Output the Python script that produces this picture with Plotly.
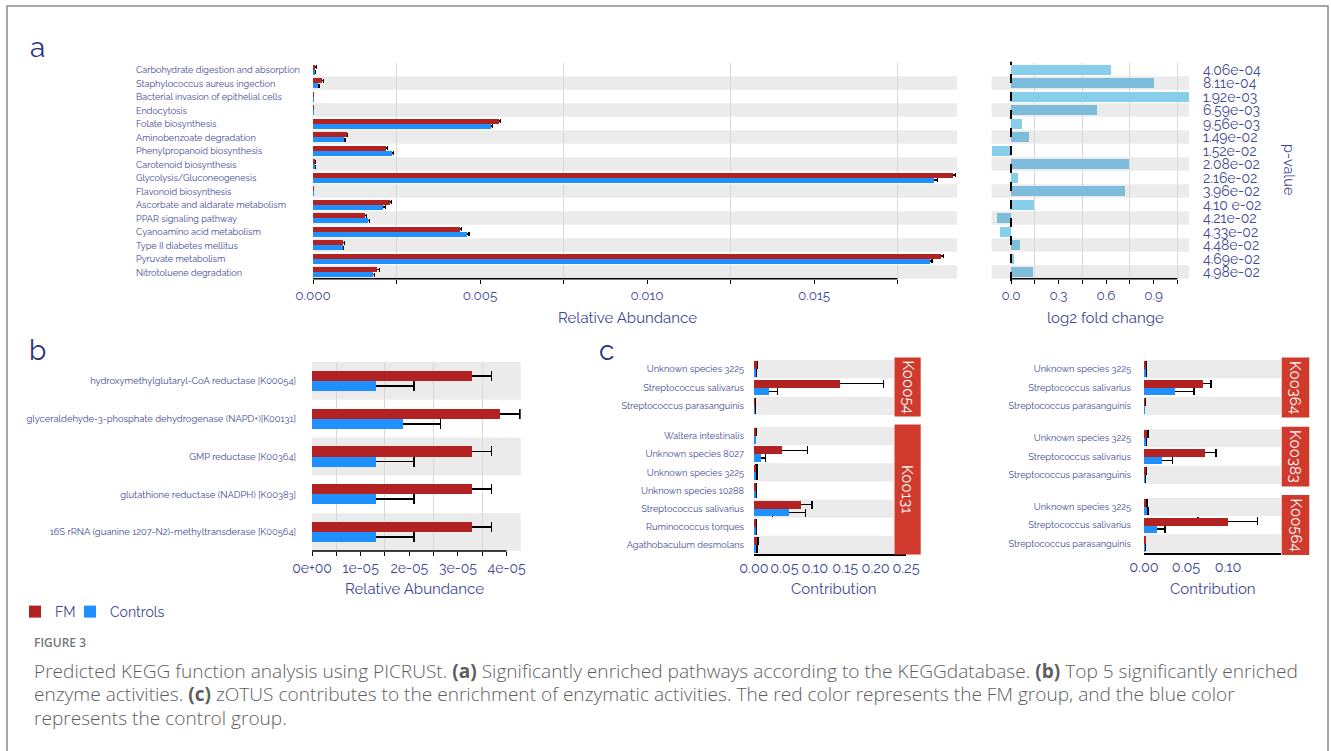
import plotly.graph_objects as go

W, H = 1331, 751


def fx(p):
    return p / W


def fy(p):
    return 1 - p / H


# ---------------- data ----------------
a_pathways = [
    "Carbohydrate digestion and absorption", "Staphylococcus aureus ingection",
    "Bacterial invasion of epithelial cells", "Endocytosis", "Folate biosynthesis",
    "Aminobenzoate degradation", "Phenylpropanoid biosynthesis", "Carotenoid biosynthesis",
    "Glycolysis/Gluconeogenesis", "Flavonoid biosynthesis", "Ascorbate and aldarate metabolism",
    "PPAR signaling pathway", "Cyanoamino acid metabolism", "Type II diabetes mellitus",
    "Pyruvate metabolism", "Nitrotoluene degradation",
]
a_fm = [0.00007, 0.00026, 0.00001, 0.00001, 0.00556, 0.00101, 0.00219, 0.00005,
        0.01915, 0.00001, 0.00230, 0.00156, 0.00440, 0.00091, 0.01880, 0.00193]
a_fm_err = [0.00003, 0.00005, 0.00001, 0.00001, 0.00006, 0.00003, 0.00004, 0.00002,
            0.00008, 0.00001, 0.00005, 0.00003, 0.00005, 0.00003, 0.00007, 0.00005]
a_ctrl = [0.00005, 0.00014, 0.00001, 0.00001, 0.00532, 0.00093, 0.00236, 0.00005,
          0.01860, 0.00001, 0.00211, 0.00164, 0.00462, 0.00089, 0.01847, 0.00179]
a_ctrl_err = [0.00003, 0.00004, 0.00001, 0.00001, 0.00006, 0.00003, 0.00005, 0.00002,
              0.00009, 0.00001, 0.00005, 0.00004, 0.00005, 0.00003, 0.00006, 0.00004]
a_log2fc = [0.63, 0.90, 1.13, 0.54, 0.07, 0.11, -0.12, 0.745,
            0.042, 0.72, 0.145, -0.09, -0.07, 0.053, 0.019, 0.135]
a_pvalues = ["4.06e-04", "8.11e-04", "1.92e-03", "6.59e-03", "9.56e-03", "1.49e-02",
             "1.52e-02", "2.08e-02", "2.16e-02", "3.96e-02", "4.10 e-02", "4.21e-02",
             "4.33e-02", "4.48e-02", "4.69e-02", "4.98e-02"]
a_abund_ticks = [0.0, 0.005, 0.010, 0.015]
a_abund_ticktext = ["0.000", "0.005", "0.010", "0.015"]
a_abund_minor = [0.0025, 0.0075, 0.0125, 0.0175]
a_fc_ticks = [0.0, 0.3, 0.6, 0.9]
a_fc_ticktext = ["0.0", "0.3", "0.6", "0.9"]
a_fc_minor = [0.15, 0.45, 0.75, 1.05]

b_enzymes = [
    "hydroxymethylglutaryl-CoA reductase [K00054]",
    "glyceraldehyde-3-phosphate dehydrogenase (NAPD+)[K00131]",
    "GMP reductase [K00364]",
    "glutathione reductase (NADPH) [K00383]",
    "16S rRNA (guanine 1207-N2)-methyltransderase [K00564]",
]
b_fm = [3.28e-05, 3.87e-05, 3.28e-05, 3.28e-05, 3.28e-05]
b_fm_err = [0.41e-05, 0.41e-05, 0.41e-05, 0.41e-05, 0.41e-05]
b_ctrl = [1.31e-05, 1.88e-05, 1.31e-05, 1.31e-05, 1.31e-05]
b_ctrl_err = [0.78e-05, 0.76e-05, 0.78e-05, 0.78e-05, 0.78e-05]
b_ticks = [0, 1e-05, 2e-05, 3e-05, 4e-05]
b_ticktext = ["0e+00", "1e-05", "2e-05", "3e-05", "4e-05"]
b_minor = [0.5e-05, 1.5e-05, 2.5e-05, 3.5e-05]

c_k00054_species = ["Unknown species 3225", "Streptococcus salivarus", "Streptococcus parasanguinis"]
c_k00054_fm = [0.0045, 0.1414, 0.0010]
c_k00054_fm_err = [0.0015, 0.0713, 0.0005]
c_k00054_ctrl = [0.0020, 0.0247, 0.0010]
c_k00054_ctrl_err = [0.0010, 0.0143, 0.0005]

c_k00131_species = ["Waltera intestinalis", "Unknown species 8027", "Unknown species 3225",
                    "Unknown species 10288", "Streptococcus salivarius", "Ruminococcus torques",
                    "Agathobaculum desmolans"]
c_k00131_fm = [0.0024, 0.0461, 0.0036, 0.0030, 0.0768, 0.0024, 0.0052]
c_k00131_fm_err = [0.0010, 0.0416, 0.0010, 0.0008, 0.0186, 0.0008, 0.0015]
c_k00131_ctrl = [0.0020, 0.0110, 0.0040, 0.0030, 0.0576, 0.0024, 0.0036]
c_k00131_ctrl_err = [0.0008, 0.0080, 0.0010, 0.0008, 0.0274, 0.0008, 0.0010]

c_right_species = ["Unknown species 3225", "Streptococcus salivarius", "Streptococcus parasanguinis"]
c_k00364_fm = [0.0016, 0.0700, 0.0008]
c_k00364_fm_err = [0.0008, 0.0099, 0.0004]
c_k00364_ctrl = [0.0016, 0.0372, 0.0004]
c_k00364_ctrl_err = [0.0008, 0.0225, 0.0002]
c_k00383_fm = [0.0035, 0.0730, 0.0016]
c_k00383_fm_err = [0.0010, 0.0127, 0.0005]
c_k00383_ctrl = [0.0016, 0.0220, 0.0008]
c_k00383_ctrl_err = [0.0006, 0.0122, 0.0003]
c_k00564_fm = [0.0024, 0.0995, 0.0012]
c_k00564_fm_err = [0.0010, 0.0355, 0.0004]
c_k00564_ctrl = [0.0035, 0.0150, 0.0008]
c_k00564_ctrl_err = [0.0010, 0.0099, 0.0003]

c_left_ticks = [0, 0.05, 0.10, 0.15, 0.20, 0.25]
c_left_ticktext = ["0.00", "0.05", "0.10", "0.15", "0.20", "0.25"]
c_right_ticks = [0, 0.05, 0.10]
c_right_ticktext = ["0.00", "0.05", "0.10"]

legend_names = ["FM", "Controls"]

# ---------------- style ----------------
TEXT = "#3F4A94"
DARK = "#2B3384"
RED = "#B22222"
BLUE = "#1E90FF"
FC_LIGHT = "#87CEEB"
FC_DARK = "#7DBCDB"
STRIPE = "#EBEBEB"
GRID = "#D9D9D9"
STRIP = "#D03A2C"
FONT = "Raleway, Lato, sans-serif"
CAPFONT = "Open Sans, sans-serif"

fig = go.Figure()
shapes = []
annotations = []


def sfx(k):
    return "" if k == 1 else str(k)


# panel geometry in pixels: (x0, x1), (ytop, ybottom), n rows, stripe parity, stripe end (data)
panels = {
    1: dict(x=(313, 957), y=(62.75, 278.75), n=16, par=1, send=None),
    2: dict(x=(991.7, 1189), y=(62.75, 278.75), n=16, par=1, send=None),
    3: dict(x=(312, 520.7), y=(362, 551), n=5, par=0, send=None),
    4: dict(x=(754, 906), y=(360, 415), n=3, par=0, send=0.2303),
    5: dict(x=(754, 906), y=(427, 554), n=7, par=0, send=0.2303),
    6: dict(x=(1144, 1281), y=(360, 415), n=3, par=0, send=None),
    7: dict(x=(1144, 1281), y=(429, 484), n=3, par=0, send=None),
    8: dict(x=(1144, 1281), y=(497.7, 552.7), n=3, par=0, send=None),
}

for k, p in panels.items():
    for i in range(p["n"]):
        if i % 2 == p["par"]:
            if p["send"] is None:
                xr, x0, x1 = f"x{sfx(k)} domain", 0, 1
            else:
                xr, x0, x1 = f"x{sfx(k)}", 0, p["send"]
            shapes.append(dict(type="rect", xref=xr, yref=f"y{sfx(k)}",
                               x0=x0, x1=x1, y0=i - 0.5, y1=i + 0.5, fillcolor=STRIPE,
                               line=dict(width=0), layer="below"))


def add_pair(k, fm, fm_err, ctrl, ctrl_err, half, cap, thick, legend=False):
    ys = list(range(len(fm)))
    xa, ya = f"x{sfx(k)}", f"y{sfx(k)}"
    series = [(fm, fm_err, RED, -half, legend_names[0], "legend"),
              (ctrl, ctrl_err, BLUE, 0.0, legend_names[1], "legend2")]
    for vals, errs, col, off, name, lg in series:
        fig.add_trace(go.Bar(x=vals, y=ys, orientation="h", offset=off, width=half,
                             marker=dict(color="rgba(0,0,0,0)"),
                             error_x=dict(type="data", array=errs, color="black",
                                          thickness=thick, width=cap),
                             xaxis=xa, yaxis=ya, showlegend=False, hoverinfo="skip"))
    for vals, errs, col, off, name, lg in series:
        fig.add_trace(go.Bar(x=vals, y=ys, orientation="h", offset=off, width=half,
                             marker=dict(color=col, line=dict(width=0)), name=name,
                             xaxis=xa, yaxis=ya, showlegend=legend, legend=lg))


add_pair(1, a_fm, a_fm_err, a_ctrl, a_ctrl_err, 0.37, 2, 1.2)
fig.add_trace(go.Bar(x=a_log2fc, y=list(range(len(a_log2fc))), orientation="h", width=0.75,
                     marker=dict(color=[FC_LIGHT if i % 2 == 0 else FC_DARK
                                        for i in range(len(a_log2fc))], line=dict(width=0)),
                     xaxis="x2", yaxis="y2", showlegend=False))
add_pair(3, b_fm, b_fm_err, b_ctrl, b_ctrl_err, 0.265, 5, 1.8, legend=True)
add_pair(4, c_k00054_fm, c_k00054_fm_err, c_k00054_ctrl, c_k00054_ctrl_err, 0.43, 4, 1.5)
add_pair(5, c_k00131_fm, c_k00131_fm_err, c_k00131_ctrl, c_k00131_ctrl_err, 0.43, 4, 1.5)
add_pair(6, c_k00364_fm, c_k00364_fm_err, c_k00364_ctrl, c_k00364_ctrl_err, 0.43, 4, 1.5)
add_pair(7, c_k00383_fm, c_k00383_fm_err, c_k00383_ctrl, c_k00383_ctrl_err, 0.43, 4, 1.5)
add_pair(8, c_k00564_fm, c_k00564_fm_err, c_k00564_ctrl, c_k00564_ctrl_err, 0.43, 4, 1.5)

legend_common = dict(orientation="h", xanchor="left", yanchor="middle", y=fy(612),
                     font=dict(size=14, color=TEXT), bgcolor="rgba(0,0,0,0)", borderwidth=0)
layout = dict(
    template="none",
    width=W, height=H, margin=dict(l=0, r=0, t=0, b=0, pad=0), autosize=False,
    paper_bgcolor="white", plot_bgcolor="rgba(0,0,0,0)", barmode="overlay",
    font=dict(family=FONT, color=TEXT), bargap=0,
    legend=dict(x=fx(15), **legend_common),
    legend2=dict(x=fx(70), **legend_common),
)

y_labels = {3: b_enzymes, 4: c_k00054_species, 5: c_k00131_species,
            6: c_right_species, 7: c_right_species, 8: c_right_species}
standoff = {3: 15, 4: 9, 5: 9, 6: 12, 7: 12, 8: 12}
lsize = {3: 9.4, 4: 9.2, 5: 9.2, 6: 9.2, 7: 9.2, 8: 9.2}

for k, p in panels.items():
    n = p["n"]
    yd = dict(domain=[fy(p["y"][1]), fy(p["y"][0])], anchor=f"x{sfx(k)}",
              range=[n - 0.5, -0.5], showgrid=False, zeroline=False, showline=False,
              ticks="", fixedrange=True, automargin=False)
    if k in y_labels:
        yd.update(tickmode="array", tickvals=list(range(n)), ticktext=y_labels[k],
                  showticklabels=True, ticklabelstandoff=standoff[k],
                  tickfont=dict(size=lsize[k], color=TEXT, family=FONT))
    else:
        yd.update(showticklabels=False)
    layout[f"yaxis{sfx(k)}"] = yd

tick_common = dict(ticks="outside", ticklen=4, tickwidth=1, tickcolor="black")
minor_common = dict(showgrid=True, gridcolor=GRID, gridwidth=1, ticks="outside",
                    ticklen=4, tickwidth=1, tickcolor="black")

layout["xaxis"] = dict(domain=[fx(313), fx(957)], anchor="y", range=[0, 0.01928],
                       tickmode="array", tickvals=a_abund_ticks, ticktext=a_abund_ticktext,
                       showgrid=False, zeroline=False, showline=False, automargin=False,
                       tickangle=0, tickfont=dict(size=13.5, color=TEXT),
                       minor=dict(tickmode="array", tickvals=a_abund_minor, **minor_common),
                       **tick_common)
layout["xaxis2"] = dict(domain=[fx(991.7), fx(1189)], anchor="y2", range=[-0.122, 1.124],
                        tickmode="array", tickvals=a_fc_ticks, ticktext=a_fc_ticktext,
                        showgrid=False, zeroline=False, showline=False, automargin=False,
                        tickangle=0, tickfont=dict(size=13.5, color=TEXT),
                        minor=dict(tickmode="array", tickvals=a_fc_minor, **minor_common),
                        **tick_common)
layout["xaxis3"] = dict(domain=[fx(312), fx(520.7)], anchor="y3", range=[0, 4.29e-05],
                        tickmode="array", tickvals=b_ticks, ticktext=b_ticktext,
                        showgrid=False, zeroline=False, showline=False, automargin=False,
                        tickangle=0, tickfont=dict(size=14, color=TEXT),
                        minor=dict(tickmode="array", tickvals=b_minor, **minor_common),
                        **tick_common)
for k in (4, 5):
    layout[f"xaxis{k}"] = dict(domain=[fx(754), fx(906)], anchor=f"y{k}", range=[0, 0.25],
                               showgrid=False, zeroline=False, fixedrange=True, automargin=False,
                               showline=(k == 5), linecolor="black", linewidth=1.5,
                               showticklabels=(k == 5), tickmode="array", tickangle=0,
                               tickvals=c_left_ticks, ticktext=c_left_ticktext,
                               tickfont=dict(size=14.5, color=TEXT), ticks="")
for k in (6, 7, 8):
    layout[f"xaxis{k}"] = dict(domain=[fx(1144), fx(1281)], anchor=f"y{k}",
                               range=[0, 0.163], showgrid=False, zeroline=False,
                               automargin=False, showline=(k == 8), linecolor="black",
                               linewidth=1.5, showticklabels=(k == 8), tickmode="array",
                               tickangle=0, tickvals=c_right_ticks, ticktext=c_right_ticktext,
                               tickfont=dict(size=14.5, color=TEXT), ticks="")

# axis lines (stop at last tick, like the reference)
for xa, ya, x1 in (("x", "y", a_abund_minor[-1]), ("x2", "y2", a_fc_minor[-1]),
                   ("x3", "y3", b_ticks[-1])):
    shapes.append(dict(type="line", xref=xa, yref=f"{ya} domain", x0=0, x1=x1, y0=0, y1=0,
                       line=dict(color="black", width=1.5), layer="above"))
# zero line (dashed) of fold-change panel
shapes.append(dict(type="line", xref="x2", yref="y2 domain", x0=0, x1=0, y0=-0.01, y1=1.005,
                   line=dict(color="black", width=2, dash="dash"), layer="above"))

# pathway labels (left-aligned)
for i, name in enumerate(a_pathways):
    annotations.append(dict(text=name, xref="paper", yref="y", x=fx(134), y=i,
                            xanchor="left", yanchor="middle", showarrow=False,
                            font=dict(size=9.1, color=TEXT, family=FONT)))
# p-values
for i, pv in enumerate(a_pvalues):
    annotations.append(dict(text=pv, xref="paper", yref="y2", x=fx(1201), y=i,
                            xanchor="left", yanchor="middle", showarrow=False,
                            font=dict(size=14, color=TEXT, family=FONT)))
annotations.append(dict(text="p-value", xref="paper", yref="paper", x=fx(1290), y=fy(170),
                        textangle=90, showarrow=False, xanchor="center", yanchor="middle",
                        font=dict(size=14.5, color=TEXT, family=FONT)))

# facet strips
strips = [("K00054", 894.5, 920.7, 357.5, 416.5), ("K00131", 894.5, 920.7, 424.5, 554.5),
          ("K00364", 1281.7, 1309.3, 357.5, 417.5), ("K00383", 1281.7, 1309.3, 426.7, 486.5),
          ("K00564", 1281.7, 1309.3, 495, 555)]
for lab, x0, x1, y0, y1 in strips:
    shapes.append(dict(type="rect", xref="paper", yref="paper", x0=fx(x0), x1=fx(x1),
                       y0=fy(y1), y1=fy(y0), fillcolor=STRIP, line=dict(width=0)))
    annotations.append(dict(text=lab, xref="paper", yref="paper", x=fx((x0 + x1) / 2),
                            y=fy((y0 + y1) / 2), textangle=90, showarrow=False,
                            xanchor="center", yanchor="middle",
                            font=dict(size=15, color="white", family=FONT)))

# axis titles
for txt, x, y in (("Relative Abundance", 627, 318), ("log2 fold change", 1105, 318),
                  ("Relative Abundance", 415, 589), ("Contribution", 834, 589),
                  ("Contribution", 1212.7, 589)):
    annotations.append(dict(text=txt, xref="paper", yref="paper", x=fx(x), y=fy(y),
                            showarrow=False, xanchor="center", yanchor="middle",
                            font=dict(size=15, color=TEXT, family=FONT)))

# panel letters
for txt, x, y in (("a", 37, 48), ("b", 37, 350), ("c", 606, 351)):
    annotations.append(dict(text=txt, xref="paper", yref="paper", x=fx(x), y=fy(y),
                            showarrow=False, xanchor="center", yanchor="middle",
                            font=dict(size=28, color=DARK, family=FONT)))

# caption
annotations.append(dict(text="FIGURE 3", xref="paper", yref="paper", x=fx(32), y=fy(642),
                        showarrow=False, xanchor="left", yanchor="middle",
                        font=dict(size=12, color="#777777", family="Open Sans", weight=600)))
cap_lines = [
    "Predicted KEGG function analysis using PICRUSt. <b>(a)</b> Significantly enriched pathways "
    "according to the KEGGdatabase. <b>(b)</b> Top 5 significantly enriched",
    "enzyme activities. <b>(c)</b> zOTUS contributes to the enrichment of enzymatic activities. "
    "The red color represents the FM group, and the blue color",
    "represents the control group.",
]
for j, line in enumerate(cap_lines):
    annotations.append(dict(text=line, xref="paper", yref="paper", x=fx(32),
                            y=fy(670.5 + 23.5 * j), showarrow=False, xanchor="left",
                            yanchor="middle",
                            font=dict(size=19.1, color="#5E5E5E", family=CAPFONT, weight=300)))

# outer frame
shapes.append(dict(type="rect", xref="paper", yref="paper", x0=fx(7), x1=fx(1328),
                   y0=fy(770), y1=fy(6), line=dict(color="#8A8A8A", width=1.5),
                   fillcolor="rgba(0,0,0,0)"))

layout["shapes"] = shapes
layout["annotations"] = annotations
fig.update_layout(**layout)

fig.write_html("out.html", config={"displayModeBar": False, "responsive": False},
               post_script="document.body.style.margin='0';document.body.style.overflow='hidden';")
